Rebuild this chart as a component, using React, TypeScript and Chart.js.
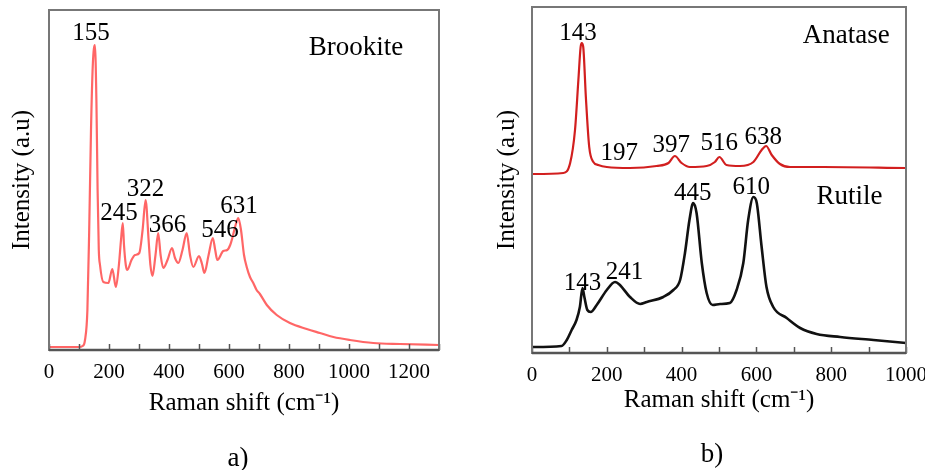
import React, { useEffect, useRef } from "react";
import { Chart, registerables } from "chart.js";

Chart.register(...registerables);

const FONT = "'Times New Roman', 'Liberation Serif', serif";

// ---- Panel a: Brookite ----
const brookiteShift = [0, 50, 100, 112, 120, 128, 134, 140, 146, 153, 158, 162, 166, 170, 181, 198, 211, 223, 233, 240, 246, 250, 256, 261, 275, 287, 301, 312, 322, 332, 338, 345, 355, 364, 372, 381, 395, 410, 420, 431, 445, 459, 470, 481, 500, 510, 518, 532, 546, 554, 561, 581, 594, 604, 612, 622, 631, 640, 650, 659, 670, 681, 692, 703, 726, 759, 803, 859, 903, 948, 1003, 1081, 1170, 1300];
const brookiteIntensity = [3, 3, 3, 4, 10, 40, 120, 220, 285, 305, 250, 160, 100, 85, 68, 67, 81, 63, 85, 110, 127, 105, 85, 80, 90, 95, 97, 120, 150, 110, 85, 74, 95, 117, 95, 82, 90, 102, 92, 87, 100, 117, 95, 83, 94, 86, 77, 95, 112, 100, 90, 99, 100, 105, 113, 125, 132, 120, 95, 83, 73, 67, 60, 56, 45, 35, 27, 21, 17, 13, 10, 7, 6, 5];
const brookiteLabelText = ["155", "245", "322", "366", "546", "631"];
const brookiteLabelX = [140, 233, 322, 395, 570, 633];
const brookiteLabelY = [317, 137, 161, 125, 120, 144];
const brookiteName = "Brookite";
const brookiteNameX = 1023;
const brookiteNameY = 302;
const xTicksA = { min: 0, max: 1300, step: 100, labelEvery: 200 };

// ---- Panel b: Anatase & Rutile ----
const anataseShift = [0, 84, 102, 115, 124, 130, 133, 137, 144, 153, 164, 177, 200, 262, 333, 365, 382, 400, 422, 467, 489, 501, 520, 556, 592, 614, 626, 641, 663, 690, 779, 1000];
const anataseIntensity = [179, 180, 190, 223, 273, 306, 310, 306, 256, 206, 191, 188, 186, 185, 187, 190, 197, 190, 186, 187, 191, 196, 188, 187, 191, 203, 207, 198, 189, 186, 186, 185];
const rutileShift = [0, 79, 93, 106, 119, 128, 135, 140, 148, 157, 173, 200, 222, 235, 262, 289, 307, 351, 378, 396, 409, 421, 431, 440, 454, 467, 483, 503, 529, 547, 565, 578, 592, 601, 614, 627, 645, 681, 717, 761, 824, 913, 1000];
const rutileIntensity = [6, 7, 13, 23, 33, 46, 65, 56, 43, 41, 48, 63, 71, 68, 56, 49, 51, 56, 63, 73, 100, 133, 150, 140, 90, 60, 48, 49, 50, 63, 90, 133, 156, 150, 106, 66, 46, 35, 25, 19, 16, 13, 10];
const anataseLabelText = ["143", "197", "397", "516", "638"];
const anataseLabelX = [123, 233, 372, 501, 618];
const anataseLabelY = [320, 200, 208, 210, 216];
const rutileLabelText = ["143", "241", "445", "610"];
const rutileLabelX = [135, 247, 430, 586];
const rutileLabelY = [70, 81, 160, 166];
const anataseName = "Anatase";
const anataseNameX = 840;
const anataseNameY = 317;
const rutileName = "Rutile";
const rutileNameX = 849;
const rutileNameY = 156;
const xTicksB = { min: 0, max: 1000, step: 100, labelEvery: 200 };

const xTitle = "Raman shift (cm\u207B\u00B9)";
const yTitle = "Intensity (a.u)";

const toPoints = (xs: number[], ys: number[]) => xs.map((x, i) => ({ x, y: ys[i] }));

const decorPlugin = {
  id: "decor",
  afterDatasetsDraw(chart: any, _args: any, opts: any) {
    const { ctx, chartArea: ca, scales } = chart;
    const xs = scales.x;
    const ys = scales.y;
    ctx.save();
    // inward ticks
    ctx.strokeStyle = "#555";
    ctx.lineWidth = 1.5;
    for (let v = xs.min; v <= xs.max + 0.01; v += opts.step) {
      const px = Math.round(xs.getPixelForValue(v)) + 0.5;
      ctx.beginPath();
      ctx.moveTo(px, ca.bottom);
      ctx.lineTo(px, ca.bottom - 6);
      ctx.stroke();
    }
    // frame
    ctx.strokeStyle = "#777";
    ctx.lineWidth = 2;
    ctx.strokeRect(ca.left, ca.top, ca.right - ca.left, ca.bottom - ca.top);
    ctx.strokeStyle = "#555";
    ctx.lineWidth = 2.5;
    ctx.beginPath();
    ctx.moveTo(ca.left, ca.bottom);
    ctx.lineTo(ca.right, ca.bottom);
    ctx.stroke();
    // text labels
    ctx.fillStyle = "#000";
    ctx.textAlign = "center";
    ctx.textBaseline = "middle";
    for (const l of opts.labels) {
      ctx.font = `${l.size}px ${FONT}`;
      ctx.fillText(l.text, xs.getPixelForValue(l.x), ys.getPixelForValue(l.y));
    }
    ctx.restore();
  },
};

function buildConfig(p: any) {
  return {
    type: "line",
    data: { datasets: p.datasets },
    plugins: [decorPlugin],
    options: {
      responsive: false,
      animation: false,
      events: [],
      layout: { padding: p.padding },
      plugins: {
        legend: { display: false },
        tooltip: { enabled: false },
        decor: { labels: p.labels, step: p.ticks.step },
      },
      scales: {
        x: {
          type: "linear",
          min: p.ticks.min,
          max: p.ticks.max,
          afterFit: (s: any) => {
            s.height = p.xHeight;
            s.paddingLeft = 0;
            s.paddingRight = 0;
          },
          afterBuildTicks: (s: any) => {
            const t = [];
            for (let v = p.ticks.min; v <= p.ticks.max; v += p.ticks.labelEvery) t.push({ value: v });
            s.ticks = t;
          },
          ticks: {
            autoSkip: false,
            maxRotation: 0,
            padding: 10,
            color: "#000",
            font: { family: FONT, size: 21 },
            callback: (v: any) => String(v),
          },
          grid: { display: false, drawTicks: false },
          border: { display: false },
          title: {
            display: true,
            text: xTitle,
            color: "#000",
            font: { family: FONT, size: 25, lineHeight: 1 },
            padding: { top: 0, bottom: p.xTitlePad },
          },
        },
        y: {
          type: "linear",
          min: 0,
          max: p.yMax,
          afterFit: (s: any) => {
            s.width = p.yWidth;
            s.paddingTop = 0;
            s.paddingBottom = 0;
          },
          ticks: { display: false },
          grid: { display: false, drawTicks: false },
          border: { display: false },
          title: {
            display: true,
            text: yTitle,
            color: "#000",
            font: { family: FONT, size: 25, lineHeight: 1 },
            padding: { top: p.yTitlePad, bottom: 0 },
          },
        },
      },
    },
  };
}

function Panel(props: { left: number; width: number; cfg: any }) {
  const ref = useRef<HTMLCanvasElement | null>(null);
  useEffect(() => {
    if (!ref.current) return;
    const chart = new Chart(ref.current, buildConfig(props.cfg) as any);
    return () => chart.destroy();
  }, []);
  return (
    <canvas
      ref={ref}
      width={props.width}
      height={470}
      style={{ position: "absolute", left: props.left, top: 0, width: props.width, height: 470 }}
    />
  );
}

const lbl = (texts: string[], xs: number[], ys: number[], size: number) =>
  texts.map((t, i) => ({ text: t, x: xs[i], y: ys[i], size }));

export default function App() {
  const cfgA = {
    datasets: [
      {
        data: toPoints(brookiteShift, brookiteIntensity),
        borderColor: "rgba(255,85,85,0.9)",
        borderWidth: 2.2,
        pointRadius: 0,
        cubicInterpolationMode: "monotone",
        fill: false,
      },
    ],
    labels: [
      ...lbl(brookiteLabelText, brookiteLabelX, brookiteLabelY, 25),
      { text: brookiteName, x: brookiteNameX, y: brookiteNameY, size: 27 },
    ],
    ticks: xTicksA,
    padding: { left: 0, top: 10, right: 31, bottom: 0 },
    xHeight: 120,
    yWidth: 49,
    yMax: 340,
    xTitlePad: 54,
    yTitlePad: 10,
  };
  const cfgB = {
    datasets: [
      {
        data: toPoints(anataseShift, anataseIntensity),
        borderColor: "#d21f1f",
        borderWidth: 2.2,
        pointRadius: 0,
        cubicInterpolationMode: "monotone",
        fill: false,
      },
      {
        data: toPoints(rutileShift, rutileIntensity),
        borderColor: "#111",
        borderWidth: 2.6,
        pointRadius: 0,
        cubicInterpolationMode: "monotone",
        fill: false,
      },
    ],
    labels: [
      ...lbl(anataseLabelText, anataseLabelX, anataseLabelY, 25),
      ...lbl(rutileLabelText, rutileLabelX, rutileLabelY, 25),
      { text: anataseName, x: anataseNameX, y: anataseNameY, size: 27 },
      { text: rutileName, x: rutileNameX, y: rutileNameY, size: 27 },
    ],
    ticks: xTicksB,
    padding: { left: 0, top: 7, right: 19, bottom: 0 },
    xHeight: 117,
    yWidth: 62,
    yMax: 346,
    xTitlePad: 57,
    yTitlePad: 25,
  };
  const capStyle: React.CSSProperties = {
    position: "absolute",
    transform: "translate(-50%, -50%)",
    fontFamily: FONT,
    fontSize: 27,
    lineHeight: 1,
    color: "#000",
    whiteSpace: "nowrap",
  };
  return (
    <div style={{ position: "absolute", left: 0, top: 0, width: 925, height: 470, background: "#fff", overflow: "hidden" }}>
      <Panel left={0} width={470} cfg={cfgA} />
      <Panel left={470} width={455} cfg={cfgB} />
      <div style={{ ...capStyle, left: 238, top: 457 }}>a)</div>
      <div style={{ ...capStyle, left: 712, top: 453 }}>b)</div>
    </div>
  );
}
